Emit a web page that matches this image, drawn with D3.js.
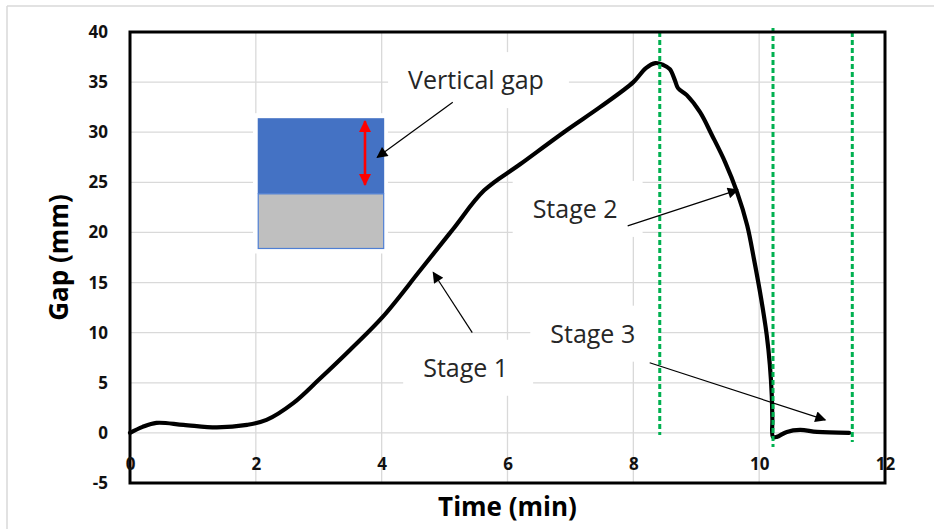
<!DOCTYPE html>
<html>
<head>
<meta charset="utf-8">
<script src="https://cdn.jsdelivr.net/npm/d3@7"></script>
<style>
  html, body { margin: 0; padding: 0; background: #fff; }
  svg { display: block; }
  text { font-family: "Open Sans", "DejaVu Sans", sans-serif; }
</style>
</head>
<body>
<svg id="chart" width="934" height="529"></svg>
<script>
// Gap measurement over time (minutes, mm)
const timeMin = [0, 0.2, 0.42, 0.85, 1.38, 1.86, 2.17, 2.6, 3.0, 3.5, 4.02, 4.61, 5.13, 5.63, 6.2, 6.94, 7.47, 8.0, 8.2, 8.35, 8.48, 8.58, 8.66, 8.71, 8.85, 9.06, 9.25, 9.46, 9.65, 9.81, 9.92, 10.03, 10.12, 10.17, 10.2, 10.21, 10.22, 10.28, 10.44, 10.65, 10.92, 11.43];
const gapMm   = [0, 0.6, 1.0, 0.8, 0.55, 0.8, 1.3, 3.0, 5.3, 8.3, 11.6, 16.2, 20.3, 24.2, 26.8, 30.2, 32.5, 35.0, 36.4, 36.9, 36.7, 36.3, 35.2, 34.4, 33.7, 32.0, 29.7, 27.0, 24.0, 20.7, 17.25, 13.45, 9.77, 6.77, 3.78, 1.3, -0.4, -0.4, 0.1, 0.3, 0.1, 0.0];

// Stage boundaries (min)
const stageBounds = [8.42, 10.22, 11.48];
const stageBoundTop = [40, 40.4, 40];
const stageBoundBottom = [-0.2, -1.4, -0.9];

// Axis ticks
const xTicks = [0, 2, 4, 6, 8, 10, 12];
const yTicks = [-5, 0, 5, 10, 15, 20, 25, 30, 35, 40];

// Text callouts: label position, arrow tail and arrow head (data units)
const calloutText = ["Vertical gap", "Stage 2", "Stage 1", "Stage 3"];
const calloutAt   = [[4.42, 34.3], [6.40, 21.45], [4.66, 5.6], [6.68, 9.0]];
const arrowFrom   = [[5.13, 33.0], [7.91, 20.65], [5.44, 10.0], [8.26, 7.0]];
const arrowTo     = [[3.93, 27.5], [9.66, 24.25], [4.82, 16.0], [11.05, 1.3]];

// Inset sketch: upper block, lower block, double arrow
const sketchX = [2.03, 4.04];
const sketchLevels = [31.4, 23.85, 18.35];
const sketchPad = [1.955, 4.1, 31.9, 17.9];
const gapArrow = [3.735, 31.5, 24.35];

const svg = d3.select("#chart");
const W = 934, H = 529;

const x = d3.scaleLinear().domain([0, 12]).range([130, 885]);
const y = d3.scaleLinear().domain([-5, 40]).range([483, 32]);

// outer frame
svg.append("line").attr("x1", 7).attr("x2", W).attr("y1", 6).attr("y2", 6)
  .attr("stroke", "#d9d9d9").attr("stroke-width", 1.5);
svg.append("line").attr("x1", 7).attr("x2", 7).attr("y1", 6).attr("y2", H)
  .attr("stroke", "#d9d9d9").attr("stroke-width", 1.5);

// gridlines
const grid = svg.append("g").attr("stroke", "#d9d9d9").attr("stroke-width", 1.3);
grid.selectAll("line.h").data(yTicks).join("line").attr("class", "h")
  .attr("x1", x(0)).attr("x2", x(12)).attr("y1", d => y(d)).attr("y2", d => y(d));
grid.selectAll("line.v").data(xTicks).join("line").attr("class", "v")
  .attr("x1", d => x(d)).attr("x2", d => x(d)).attr("y1", y(40)).attr("y2", y(-5));

// defs: arrow heads
const defs = svg.append("defs");
defs.append("marker").attr("id", "blackHead")
  .attr("viewBox", "0 0 10 10").attr("refX", 9).attr("refY", 5)
  .attr("markerWidth", 13).attr("markerHeight", 11).attr("markerUnits", "userSpaceOnUse")
  .attr("orient", "auto")
  .append("path").attr("d", "M0,0 L10,5 L0,10 Z").attr("fill", "#000");
defs.append("marker").attr("id", "redHead")
  .attr("viewBox", "0 0 10 10").attr("refX", 9).attr("refY", 5)
  .attr("markerWidth", 12).attr("markerHeight", 12).attr("markerUnits", "userSpaceOnUse")
  .attr("orient", "auto-start-reverse")
  .append("path").attr("d", "M0,0 L10,5 L0,10 Z").attr("fill", "#ff0000");

// inset sketch (white mat, blue block, grey block, red gap arrow)
const sketch = svg.append("g");
sketch.append("rect")
  .attr("x", x(sketchPad[0])).attr("y", y(sketchPad[2]))
  .attr("width", x(sketchPad[1]) - x(sketchPad[0]))
  .attr("height", y(sketchPad[3]) - y(sketchPad[2]))
  .attr("fill", "#fff");
sketch.append("rect")
  .attr("x", x(sketchX[0])).attr("y", y(sketchLevels[0]))
  .attr("width", x(sketchX[1]) - x(sketchX[0]))
  .attr("height", y(sketchLevels[1]) - y(sketchLevels[0]))
  .attr("fill", "#4472c4");
sketch.append("rect")
  .attr("x", x(sketchX[0]) + 0.5).attr("y", y(sketchLevels[1]))
  .attr("width", x(sketchX[1]) - x(sketchX[0]) - 1)
  .attr("height", y(sketchLevels[2]) - y(sketchLevels[1]) - 0.5)
  .attr("fill", "#bfbfbf").attr("stroke", "#4f7fd4").attr("stroke-width", 1.2);
sketch.append("line")
  .attr("x1", x(gapArrow[0])).attr("x2", x(gapArrow[0]))
  .attr("y1", y(gapArrow[1]) + 4).attr("y2", y(gapArrow[2]) - 4)
  .attr("stroke", "#ff0000").attr("stroke-width", 2.6)
  .attr("marker-start", "url(#redHead)").attr("marker-end", "url(#redHead)");

// white label mats
const labels = svg.append("g");
const mats = labels.append("g");
const texts = labels.append("g");
calloutText.forEach((t, i) => {
  const tx = texts.append("text")
    .attr("x", x(calloutAt[i][0])).attr("y", y(calloutAt[i][1]))
    .attr("font-size", 25).attr("fill", "#262626").text(t);
  const bb = tx.node().getBBox();
  mats.append("rect")
    .attr("x", bb.x - 20).attr("width", bb.width + 45)
    .attr("y", y(calloutAt[i][1]) - 37).attr("height", 56)
    .attr("fill", "#fff");
});

// data curve
const pts = timeMin.map((t, i) => [t, gapMm[i]]);
svg.append("path")
  .datum(pts)
  .attr("fill", "none").attr("stroke", "#000").attr("stroke-width", 4.2)
  .attr("stroke-linejoin", "round").attr("stroke-linecap", "round")
  .attr("d", d3.line().x(d => x(d[0])).y(d => y(d[1])).curve(d3.curveCatmullRom.alpha(0.5)));

// stage boundaries
svg.append("g").selectAll("line").data(stageBounds).join("line")
  .attr("x1", d => x(d)).attr("x2", d => x(d))
  .attr("y1", (d, i) => y(stageBoundTop[i])).attr("y2", (d, i) => y(stageBoundBottom[i]))
  .attr("stroke", "#00b050").attr("stroke-width", 3).attr("stroke-dasharray", "5,3");

// callout arrows
svg.append("g").selectAll("line").data(arrowFrom).join("line")
  .attr("x1", d => x(d[0])).attr("y1", d => y(d[1]))
  .attr("x2", (d, i) => x(arrowTo[i][0])).attr("y2", (d, i) => y(arrowTo[i][1]))
  .attr("stroke", "#000").attr("stroke-width", 1.2)
  .attr("marker-end", "url(#blackHead)");

// bring label text above arrows
svg.node().appendChild(texts.node());

// plot frame
svg.append("rect")
  .attr("x", x(0)).attr("y", y(40))
  .attr("width", x(12) - x(0)).attr("height", y(-5) - y(40))
  .attr("fill", "none").attr("stroke", "#000").attr("stroke-width", 3);

// axes (labels only)
const plain = d => String(d);
const yAxis = svg.append("g").attr("transform", `translate(${x(0)},0)`)
  .call(d3.axisLeft(y).tickValues(yTicks).tickFormat(plain).tickSize(0).tickPadding(22));
const xAxis = svg.append("g").attr("transform", `translate(0,${y(-5)})`)
  .call(d3.axisTop(x).tickValues(xTicks).tickFormat(plain).tickSize(0).tickPadding(13));
[yAxis, xAxis].forEach(a => {
  a.select(".domain").remove();
  a.selectAll("text")
    .attr("font-family", "'Open Sans', sans-serif")
    .attr("font-size", 17).attr("font-weight", "bold").attr("fill", "#111");
});

// axis titles
svg.append("text")
  .attr("x", (x(0) + x(12)) / 2).attr("y", 516)
  .attr("text-anchor", "middle").attr("font-size", 26).attr("font-weight", "bold")
  .attr("fill", "#000").text("Time (min)");
svg.append("text")
  .attr("transform", `translate(68,${(y(40) + y(-5)) / 2}) rotate(-90)`)
  .attr("text-anchor", "middle").attr("font-size", 26).attr("font-weight", "bold")
  .attr("fill", "#000").text("Gap (mm)");
</script>
</body>
</html>
